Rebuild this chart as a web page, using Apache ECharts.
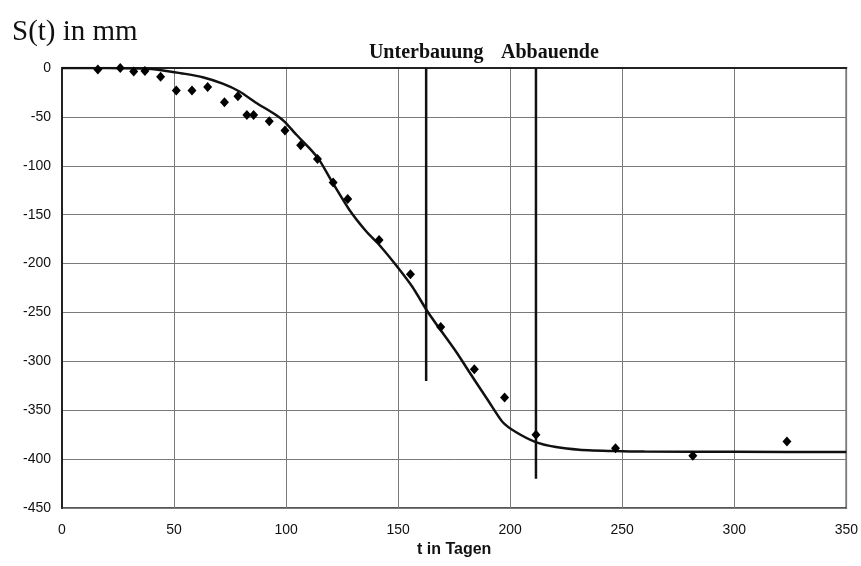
<!DOCTYPE html>
<html>
<head>
<meta charset="utf-8">
<title>Setzung S(t)</title>
<script src="https://cdn.jsdelivr.net/npm/echarts@6/dist/echarts.min.js"></script>
<style>
  html, body { margin: 0; padding: 0; background: #fff; }
  #chart { width: 861px; height: 566px; }
</style>
</head>
<body>
<div id="chart"></div>
<script>
// Measured settlement points (t in days, S in mm)
const measuredDays = [16, 26, 32, 37, 44, 51, 58, 65, 72.5, 78.5, 82.5, 85.5, 92.5, 99.5, 106.5, 114, 121, 127.5, 141.5, 155.5, 169, 184, 197.5, 211.5, 247, 281.5, 323.5];
const measuredS = [-1.5, 0, -3.5, -3, -9, -23, -23, -19.5, -35, -29, -48, -48, -54.5, -64, -79, -93, -117, -134, -176, -211, -265, -308, -337, -375, -389, -396.5, -382];

// Fitted settlement curve
const curveDays = [0, 20, 35, 40, 48, 55, 62.8, 71.7, 79.2, 86.6, 95.5, 99.4, 104.5, 110.4, 114.8, 120.8, 128.2, 135.7, 141.6, 149, 156.4, 163.1, 168.3, 175.8, 183.2, 190.6, 196.6, 202.5, 211.4, 220.4, 230.8, 246.8, 260, 300, 350];
const curveS = [0, 0, -0.5, -1, -3.5, -6, -9.5, -16, -24, -35.5, -48, -55, -68, -82, -94, -117.5, -145, -167, -181, -201.5, -224, -249, -266, -290, -316, -341.6, -362, -372.3, -382.6, -387.7, -390.4, -391.8, -392.3, -392.5, -392.8];

// Event markers
const markerNames = ['Unterbauung', 'Abbauende'];
const markerDays = [162.5, 211.5];
const markerBottoms = [-320, -420];
const markerLabelShift = [0, 14];

// Axis settings
const xTicks = { min: 0, max: 350, step: 50 };
const yTicks = { min: -450, max: 0, step: 50 };

const chart = echarts.init(document.getElementById('chart'), null, { renderer: 'canvas' });

// Vertical event lines
const markerLines = markerNames.map((name, i) => ({
  type: 'line',
  name: name,
  data: [[markerDays[i], yTicks.max], [markerDays[i], markerBottoms[i]]],
  symbol: 'none',
  lineStyle: { color: '#111', width: 2.5 },
  silent: true,
  clip: false,
  z: 3
}));

// Event captions above the plot frame
const markerCaptions = {
  type: 'scatter',
  name: 'Ereignisse',
  symbol: 'rect',
  symbolSize: 1,
  silent: true,
  clip: false,
  itemStyle: { color: '#111', opacity: 0 },
  data: markerNames.map((name, i) => ({
    value: [markerDays[i], yTicks.max],
    label: {
      show: true,
      formatter: name,
      position: 'top',
      distance: 5,
      offset: [markerLabelShift[i], 0],
      fontFamily: 'Liberation Serif',
      fontWeight: 'bold',
      fontSize: 20,
      color: '#111',
      opacity: 1,
      textBorderWidth: 0
    }
  })),
  z: 6
};

chart.setOption({
  backgroundColor: '#fff',
  animation: false,
  title: {
    text: 'S(t) in mm',
    left: 7,
    top: 13,
    textStyle: {
      fontFamily: 'Liberation Serif',
      fontWeight: 'normal',
      fontSize: 29,
      color: '#111'
    }
  },
  grid: {
    left: 62,
    right: 14,
    top: 68,
    bottom: 58,
    show: true,
    borderColor: '#222',
    borderWidth: 1.5,
    containLabel: false
  },
  xAxis: {
    type: 'value',
    min: xTicks.min,
    max: xTicks.max,
    interval: xTicks.step,
    name: 't in Tagen',
    nameLocation: 'middle',
    nameGap: 34,
    nameTextStyle: {
      fontFamily: 'Liberation Sans',
      fontWeight: 'bold',
      fontSize: 16,
      color: '#111'
    },
    axisLine: { show: true, lineStyle: { color: '#222', width: 2 } },
    axisTick: { show: false },
    axisLabel: {
      margin: 15,
      fontFamily: 'Liberation Sans',
      fontSize: 14,
      color: '#111'
    },
    splitLine: { show: true, lineStyle: { color: '#7a7a7a', width: 1 } }
  },
  yAxis: {
    type: 'value',
    min: yTicks.min,
    max: yTicks.max,
    interval: yTicks.step,
    axisLine: { show: true, onZero: false, lineStyle: { color: '#222', width: 2 } },
    axisTick: { show: false },
    axisLabel: {
      margin: 11,
      fontFamily: 'Liberation Sans',
      fontSize: 14,
      color: '#111'
    },
    splitLine: { show: true, lineStyle: { color: '#7a7a7a', width: 1 } }
  },
  series: [
    {
      type: 'line',
      name: 'Ausgleichskurve',
      data: curveDays.map((t, i) => [t, curveS[i]]),
      symbol: 'none',
      smooth: 0.2,
      lineStyle: { color: '#111', width: 2.5 },
      z: 4
    },
    {
      type: 'scatter',
      name: 'Messwerte',
      data: measuredDays.map((t, i) => [t, measuredS[i]]),
      symbol: 'diamond',
      symbolSize: [9, 10],
      itemStyle: { color: '#000', opacity: 1 },
      z: 5
    },
    ...markerLines,
    markerCaptions
  ]
});
</script>
</body>
</html>
